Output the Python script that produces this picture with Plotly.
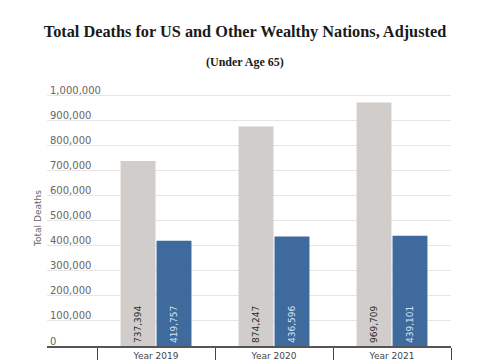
import plotly.graph_objects as go

categories = ["Year 2019", "Year 2020", "Year 2021"]
us_deaths = [737394, 874247, 969709]
peer_deaths = [419757, 436596, 439101]
y_ticks = [0, 100000, 200000, 300000, 400000, 500000, 600000, 700000, 800000, 900000, 1000000]

GRAY = "#D0CDCA"
BLUE = "#3F6A9D"

# page body has an 8px margin; layout is offset to compensate
OFF = 8

fig = go.Figure()
fig.add_trace(go.Bar(
    x=categories, y=us_deaths, marker_color=GRAY, marker_line_width=0,
    text=[f"{v:,}" for v in us_deaths], textposition="inside", textangle=-90,
    insidetextanchor="start", textfont=dict(family="DejaVu Sans", size=9, color="#2b2b2b"),
    name="US", showlegend=False,
))
fig.add_trace(go.Bar(
    x=categories, y=peer_deaths, marker_color=BLUE, marker_line_width=0,
    text=[f"{v:,}" for v in peer_deaths], textposition="inside", textangle=-90,
    insidetextanchor="start", textfont=dict(family="DejaVu Sans", size=9, color="#D6E4F2"),
    name="Peers", showlegend=False,
))

fig.update_layout(
    width=485, height=360,
    margin=dict(l=47 - OFF, r=34 + OFF, t=90 - OFF, b=14 + OFF),
    paper_bgcolor="white", plot_bgcolor="white",
    barmode="group", bargap=0.39, bargroupgap=0.03,
    title=dict(
        text="<b>Total Deaths for US and Other Wealthy Nations, Adjusted</b>",
        x=(245 - OFF) / 485, xanchor="center", y=1 - (31 - OFF) / 360, yanchor="middle",
        font=dict(family="Liberation Serif", size=16.3, color="#1a1a1a"),
    ),
    annotations=[dict(
        text="<b>(Under Age 65)</b>", xref="paper", yref="paper",
        x=0.5 - 4 / 404, y=1 + 28 / 256, xanchor="center", yanchor="middle",
        showarrow=False, font=dict(family="Liberation Serif", size=12, color="#1a1a1a"),
    )],
    xaxis=dict(
        range=[-0.924, 2.5], tickson="boundaries", ticks="outside", ticklen=14,
        tickcolor="#444", tickwidth=1, showline=True, linecolor="#555", linewidth=1.5,
        tickfont=dict(family="DejaVu Sans", size=9, color="#444"),
        ticklabelstandoff=0, showgrid=False, automargin=False,
    ),
    yaxis=dict(
        range=[0, 1020000], tickvals=y_ticks, ticktext=[f"{v:,}" for v in y_ticks],
        ticklabelposition="inside top", ticklabeloverflow="allow", ticklabelshift=2,
        tickfont=dict(family="DejaVu Sans", size=10, color="#666"),
        showgrid=True, gridcolor="#E6E6E6", gridwidth=1, zeroline=False, automargin=False,
        title=dict(text="Total Deaths", font=dict(family="DejaVu Sans", size=9, color="#666"), standoff=6),
    ),
)

fig.write_html("out.html")
